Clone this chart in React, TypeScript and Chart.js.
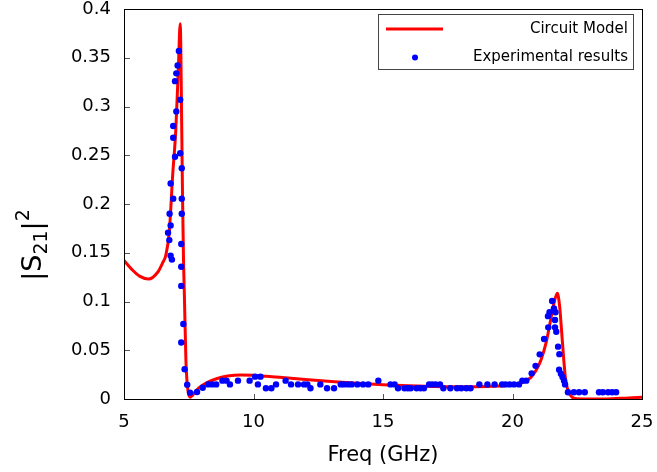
import { useEffect, useRef } from "react";
import { Chart, registerables } from "chart.js";
Chart.register(...registerables);

const FONT = "'DejaVu Sans', sans-serif";

// Circuit model curve (GHz, |S21|^2)
const curveFreq = [
  5.0, 5.3, 5.6, 5.95, 6.3, 6.48, 6.62, 6.75, 6.88, 7.0, 7.1, 7.17, 7.23, 7.26, 7.3, 7.33, 7.39, 7.45, 7.55,
  7.65, 7.8, 8.0, 8.3, 8.6, 9.0, 9.5, 10.0, 10.5, 11.0, 12.0, 13.0, 14.0, 15.0, 16.0, 17.0, 18.0, 19.0,
  19.5, 20.0, 20.4, 20.7, 20.9, 21.1, 21.3, 21.45, 21.6, 21.73, 21.82, 21.9, 21.98, 22.05, 22.15, 22.3,
  22.5, 23.0, 23.5, 24.0, 24.5, 25.0,
];
const curveS21 = [
  0.142, 0.133, 0.126, 0.123, 0.130, 0.139, 0.148, 0.172, 0.23, 0.276, 0.34, 0.385, 0.276, 0.2075, 0.139, 0.108, 0.04, 0.0126, 0.0017,
  0.004, 0.009, 0.0135, 0.018, 0.021, 0.0235, 0.0246, 0.0243, 0.0233, 0.0222, 0.02, 0.018, 0.0162, 0.0147, 0.0135, 0.0128, 0.0125, 0.0127,
  0.0133, 0.0145, 0.017, 0.022, 0.029, 0.04, 0.058, 0.078, 0.098, 0.1085, 0.095, 0.068, 0.04, 0.02, 0.008, 0.002,
  0.0002, 0.0, 0.0, 0.0005, 0.001, 0.0018,
];

// Experimental results
const expFreq = [
  6.70, 6.75, 6.76, 6.80, 6.80, 6.80, 6.85, 6.90, 6.90, 6.90, 6.97, 6.97, 7.02, 7.02, 7.07, 7.12, 7.17, 7.17,
  7.21, 7.21, 7.21, 7.21, 7.23, 7.23, 7.23, 7.29, 7.34, 7.44, 7.55, 7.82, 8.04, 8.25, 8.41, 8.56, 8.80, 8.96,
  9.09, 9.40, 9.85, 10.06, 10.17, 10.27, 10.48, 10.69, 10.87, 11.24, 11.45, 11.72, 11.95, 12.08, 12.20, 12.58,
  12.84, 13.11, 13.37, 13.49, 13.65, 13.79, 14.01, 14.23, 14.43, 14.82, 15.29, 15.45, 15.58, 15.83, 15.96,
  16.07, 16.30, 16.45, 16.58, 16.78, 16.9, 17.03, 17.2, 17.33, 17.6, 17.86, 18.02, 18.22, 18.38, 18.72, 19.03,
  19.31, 19.6, 19.73, 19.89, 20.06, 20.25, 20.38, 20.53, 20.74, 20.89, 21.05, 21.22, 21.37, 21.38, 21.43, 21.53,
  21.60, 21.64, 21.64, 21.66, 21.69, 21.76, 21.81, 21.80, 21.87, 21.93, 21.99, 22.03, 22.14, 22.37, 22.57,
  22.79, 23.34, 23.49, 23.69, 23.85, 24.0,
];
const expS21 = [
  0.1706, 0.163, 0.190, 0.221, 0.178, 0.147, 0.143, 0.280, 0.268, 0.2055, 0.326, 0.2485, 0.334, 0.295, 0.342, 0.357, 0.307, 0.252,
  0.159, 0.1357, 0.116, 0.058, 0.2366, 0.2055, 0.190, 0.077, 0.0305, 0.0147, 0.0065, 0.0072, 0.0116, 0.015, 0.015, 0.015, 0.0188, 0.0188,
  0.015, 0.0188, 0.0188, 0.0229, 0.015, 0.0229, 0.011, 0.011, 0.015, 0.0188, 0.015, 0.015, 0.015, 0.015, 0.011, 0.015,
  0.011, 0.011, 0.015, 0.015, 0.015, 0.015, 0.015, 0.015, 0.015, 0.0188, 0.015, 0.015, 0.011, 0.011, 0.011,
  0.011, 0.011, 0.011, 0.011, 0.015, 0.015, 0.015, 0.015, 0.011, 0.011, 0.011, 0.011, 0.011, 0.011, 0.015, 0.015,
  0.015, 0.015, 0.015, 0.015, 0.015, 0.015, 0.0188, 0.0188, 0.0263, 0.034, 0.0458, 0.0615, 0.085, 0.0735, 0.089, 0.1005,
  0.093, 0.081, 0.0735, 0.089, 0.069, 0.0537, 0.046, 0.030, 0.026, 0.0226, 0.0188, 0.015, 0.0069, 0.0069, 0.0069,
  0.0069, 0.0069, 0.0069, 0.0069, 0.0069, 0.0069,
];

const xTicks = [5, 10, 15, 20, 25];
const yTicks = [0, 0.05, 0.1, 0.15, 0.2, 0.25, 0.3, 0.35, 0.4];
const legendLabels = ["Circuit Model", "Experimental results"];
const xTitle = "Freq (GHz)";

const framePlugin = {
  id: "frame",
  afterDraw(chart: any) {
    const { ctx, chartArea: a, scales } = chart;
    ctx.save();
    // inner ticks
    ctx.strokeStyle = "#555";
    ctx.lineWidth = 1;
    ctx.beginPath();
    for (const v of yTicks) {
      const y = Math.round(scales.y.getPixelForValue(v)) + 0.5;
      ctx.moveTo(a.left, y);
      ctx.lineTo(a.left + 6, y);
    }
    for (const v of xTicks) {
      const x = Math.round(scales.x.getPixelForValue(v)) + 0.5;
      ctx.moveTo(x, a.bottom);
      ctx.lineTo(x, a.bottom - 5);
    }
    ctx.stroke();
    // frame
    ctx.strokeStyle = "#000";
    ctx.lineWidth = 1;
    ctx.strokeRect(Math.round(a.left) + 0.5, Math.round(a.top) + 0.5, Math.round(a.right - a.left), Math.round(a.bottom - a.top));

    // legend
    const lx = 378.5, ly = 14.5, lw = 255, lh = 55;
    ctx.fillStyle = "#fff";
    ctx.fillRect(lx, ly, lw, lh);
    ctx.strokeStyle = "#444";
    ctx.strokeRect(lx, ly, lw, lh);
    ctx.strokeStyle = "#ff0000";
    ctx.lineWidth = 3;
    ctx.beginPath();
    ctx.moveTo(386, 29);
    ctx.lineTo(443, 29);
    ctx.stroke();
    ctx.fillStyle = "#0000ff";
    ctx.beginPath();
    ctx.arc(415, 57.5, 3, 0, Math.PI * 2);
    ctx.fill();
    ctx.fillStyle = "#000";
    ctx.font = `15px ${FONT}`;
    ctx.textAlign = "right";
    ctx.textBaseline = "middle";
    ctx.fillText(legendLabels[0], 628, 29);
    ctx.fillText(legendLabels[1], 628, 57.5);

    // x title
    ctx.font = `21px ${FONT}`;
    ctx.textAlign = "center";
    ctx.textBaseline = "middle";
    ctx.fillText(xTitle, (a.left + a.right) / 2, 456);

    // y title |S21|^2 with sub/superscript
    ctx.translate(41, 245);
    ctx.rotate(-Math.PI / 2);
    const big = `27px ${FONT}`;
    const small = `19px ${FONT}`;
    const parts = [
      { t: "|S", f: big, dy: 0 },
      { t: "21", f: small, dy: 6 },
      { t: "|", f: big, dy: 0 },
      { t: "2", f: small, dy: -12 },
    ];
    let total = 0;
    for (const p of parts) {
      ctx.font = p.f;
      total += ctx.measureText(p.t).width;
    }
    let x = -total / 2;
    ctx.textAlign = "left";
    ctx.textBaseline = "alphabetic";
    for (const p of parts) {
      ctx.font = p.f;
      ctx.fillText(p.t, x, p.dy);
      x += ctx.measureText(p.t).width;
    }
    ctx.restore();
  },
};

export default function App() {
  const ref = useRef<HTMLCanvasElement>(null);
  useEffect(() => {
    document.body.style.margin = "0";
    const chart = new Chart(ref.current!, {
      type: "scatter",
      data: {
        datasets: [
          {
            label: legendLabels[1],
            data: expFreq.map((x, i) => ({ x, y: expS21[i] })),
            showLine: false,
            pointRadius: 3.2,
            pointBackgroundColor: "#0000ff",
            pointBorderWidth: 0,
            order: 0,
          } as any,
          {
            label: legendLabels[0],
            type: "line",
            data: curveFreq.map((x, i) => ({ x, y: curveS21[i] })),
            showLine: true,
            borderColor: "#ff0000",
            borderWidth: 3,
            pointRadius: 0,
            cubicInterpolationMode: "monotone",
            fill: false,
            order: 1,
          } as any,
        ],
      },
      options: {
        responsive: false,
        animation: false,
        layout: { padding: { top: 9, right: 15, left: 0, bottom: 0 } },
        plugins: { legend: { display: false }, tooltip: { enabled: false } },
        scales: {
          x: {
            type: "linear",
            min: 5,
            max: 25,
            afterBuildTicks: (s: any) => {
              s.ticks = xTicks.map((v) => ({ value: v }));
            },
            afterFit: (s: any) => {
              s.height = 73;
              s.paddingLeft = 0;
              s.paddingRight = 0;
            },
            grid: { drawOnChartArea: false, drawTicks: false },
            border: { color: "#000", width: 1 },
            ticks: { font: { family: FONT, size: 18 }, color: "#000", padding: 13, maxRotation: 0 },
          },
          y: {
            type: "linear",
            min: 0,
            max: 0.4,
            afterBuildTicks: (s: any) => {
              s.ticks = yTicks.map((v) => ({ value: v }));
            },
            afterFit: (s: any) => {
              s.width = 124;
              s.paddingTop = 0;
              s.paddingBottom = 0;
            },
            grid: { drawOnChartArea: false, drawTicks: false },
            border: { color: "#000", width: 1 },
            ticks: {
              font: { family: FONT, size: 18 },
              color: "#000",
              padding: 13,
              callback: (v: any) => String(+(+v).toFixed(2)),
            },
          },
        },
      },
      plugins: [framePlugin],
    });
    return () => chart.destroy();
  }, []);
  return <canvas ref={ref} width={657} height={472} style={{ display: "block" }} />;
}
